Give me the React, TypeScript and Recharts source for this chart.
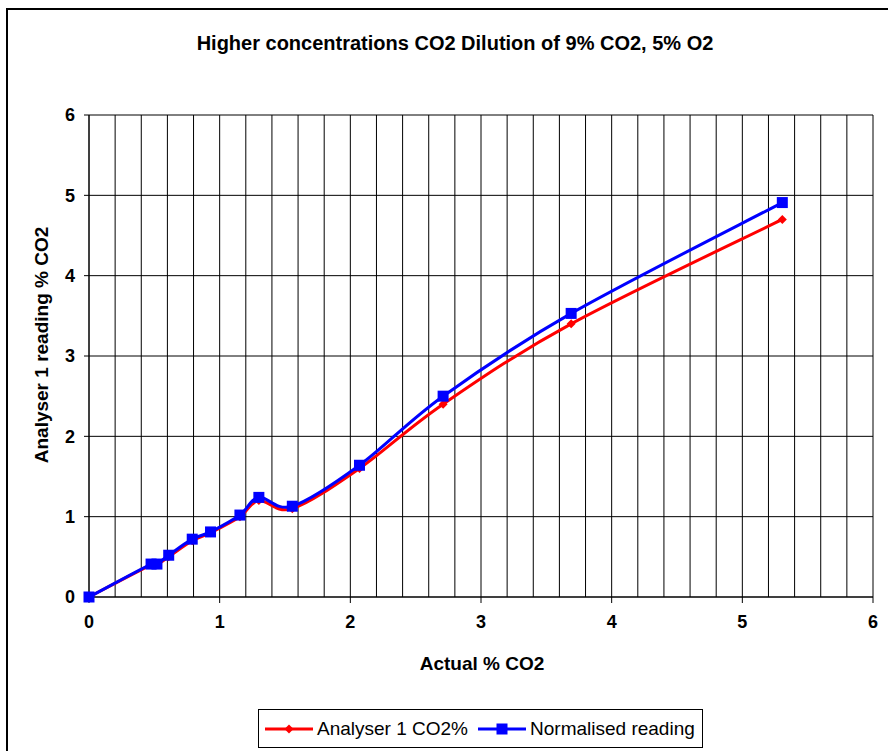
import { LineChart, Line, XAxis, YAxis, CartesianGrid } from "recharts";

// Actual % CO2 (x) and the two readings (y)
const actualCO2 = [0, 0.475, 0.52, 0.61, 0.79, 0.93, 1.155, 1.3, 1.556, 2.07, 2.71, 3.69, 5.306];
const analyserCO2 = [0, 0.4, 0.4, 0.5, 0.7, 0.8, 1.0, 1.2, 1.1, 1.6, 2.4, 3.4, 4.7];
const normalisedReading = [0, 0.41, 0.41, 0.52, 0.72, 0.81, 1.02, 1.24, 1.13, 1.64, 2.5, 3.53, 4.91];

const axisTicks = [0, 1, 2, 3, 4, 5, 6];
const gridX = [
  0, 0.2, 0.4, 0.6, 0.8, 1, 1.2, 1.4, 1.6, 1.8, 2, 2.2, 2.4, 2.6, 2.8, 3, 3.2, 3.4, 3.6, 3.8, 4,
  4.2, 4.4, 4.6, 4.8, 5, 5.2, 5.4, 5.6, 5.8, 6,
];

const data = actualCO2.map((x, i) => ({ x, a: analyserCO2[i], n: normalisedReading[i] }));

const FONT = "'Liberation Sans', Arial, sans-serif";
const RED = "#ff0000";
const BLUE = "#0000ff";

// Excel-style smoothed line (uniform Catmull-Rom as cubic beziers)
const smoothCurve = (context: any) => {
  let pts: [number, number][] = [];
  return {
    areaStart() {},
    areaEnd() {},
    lineStart() {
      pts = [];
    },
    lineEnd() {
      if (!pts.length) return;
      context.moveTo(pts[0][0], pts[0][1]);
      for (let i = 0; i < pts.length - 1; i++) {
        const p0 = pts[Math.max(i - 1, 0)];
        const p1 = pts[i];
        const p2 = pts[i + 1];
        const p3 = pts[Math.min(i + 2, pts.length - 1)];
        context.bezierCurveTo(
          p1[0] + (p2[0] - p0[0]) / 6,
          p1[1] + (p2[1] - p0[1]) / 6,
          p2[0] - (p3[0] - p1[0]) / 6,
          p2[1] - (p3[1] - p1[1]) / 6,
          p2[0],
          p2[1]
        );
      }
    },
    point(x: number, y: number) {
      pts.push([x, y]);
    },
  };
};

const Diamond = (p: any) => (
  <path
    key={p.index}
    d={`M${p.cx},${p.cy - 4.5}L${p.cx + 4.5},${p.cy}L${p.cx},${p.cy + 4.5}L${p.cx - 4.5},${p.cy}Z`}
    fill={RED}
  />
);

const Square = (p: any) => (
  <rect key={p.index} x={p.cx - 5.5} y={p.cy - 5.5} width={11} height={11} fill={BLUE} />
);

export default function App() {
  return (
    <div
      style={{
        position: "absolute",
        left: 0,
        top: 0,
        width: 888,
        height: 751,
        overflow: "hidden",
        background: "#fff",
        fontFamily: FONT,
      }}
    >
      <div
        style={{
          position: "absolute",
          left: 6,
          top: 8,
          width: 900,
          height: 800,
          border: "2px solid #000",
          boxSizing: "border-box",
        }}
      />
      <div
        style={{
          position: "absolute",
          left: 0,
          width: 910,
          top: 29,
          textAlign: "center",
          fontSize: 20,
          fontWeight: "bold",
          lineHeight: "28px",
        }}
      >
        Higher concentrations CO2 Dilution of 9% CO2, 5% O2
      </div>

      <LineChart
        width={888}
        height={751}
        data={data}
        margin={{ top: 115, right: 15, bottom: 124, left: 0 }}
        style={{ position: "absolute", left: 0, top: 0 }}
      >
        <CartesianGrid
          stroke="#000"
          strokeWidth={1}
          verticalValues={gridX}
          horizontalValues={axisTicks}
        />
        <XAxis
          type="number"
          dataKey="x"
          domain={[0, 6]}
          ticks={axisTicks}
          height={30}
          tickSize={6}
          tickMargin={12}
          stroke="#000"
          tick={{ fill: "#000", fontSize: 18, fontWeight: "bold", fontFamily: FONT }}
          label={{
            content: () => (
              <text
                x={482}
                y={670}
                textAnchor="middle"
                fontSize={19}
                fontWeight="bold"
                fontFamily={FONT}
                fill="#000"
              >
                Actual % CO2
              </text>
            ),
          }}
        />
        <YAxis
          type="number"
          domain={[0, 6]}
          ticks={axisTicks}
          width={89}
          tickSize={5}
          tickMargin={9}
          stroke="#000"
          tick={{ fill: "#000", fontSize: 18, fontWeight: "bold", fontFamily: FONT }}
          label={{
            content: () => (
              <text
                transform="translate(48,345) rotate(-90)"
                textAnchor="middle"
                fontSize={19}
                fontWeight="bold"
                fontFamily={FONT}
                fill="#000"
              >
                Analyser 1 reading % CO2
              </text>
            ),
          }}
        />
        <Line
          type={smoothCurve as any}
          dataKey="a"
          stroke={RED}
          strokeWidth={3}
          dot={Diamond}
          activeDot={false}
          isAnimationActive={false}
        />
        <Line
          type={smoothCurve as any}
          dataKey="n"
          stroke={BLUE}
          strokeWidth={3}
          dot={Square}
          activeDot={false}
          isAnimationActive={false}
        />
      </LineChart>

      <div
        style={{
          position: "absolute",
          left: 258,
          top: 709,
          width: 445,
          height: 39,
          border: "1px solid #000",
          boxSizing: "border-box",
          display: "flex",
          alignItems: "center",
          fontSize: 19,
          whiteSpace: "nowrap",
        }}
      >
        <svg width={52} height={20} style={{ marginLeft: 4 }}>
          <line x1={2} y1={10} x2={50} y2={10} stroke={RED} strokeWidth={3} />
          <path d="M26,5.5L30.5,10L26,14.5L21.5,10Z" fill={RED} />
        </svg>
        <span style={{ marginLeft: 2 }}>Analyser 1 CO2%</span>
        <svg width={52} height={20} style={{ marginLeft: 8 }}>
          <line x1={2} y1={10} x2={50} y2={10} stroke={BLUE} strokeWidth={3} />
          <rect x={20.5} y={4.5} width={11} height={11} fill={BLUE} />
        </svg>
        <span style={{ marginLeft: 2 }}>Normalised reading</span>
      </div>
    </div>
  );
}
